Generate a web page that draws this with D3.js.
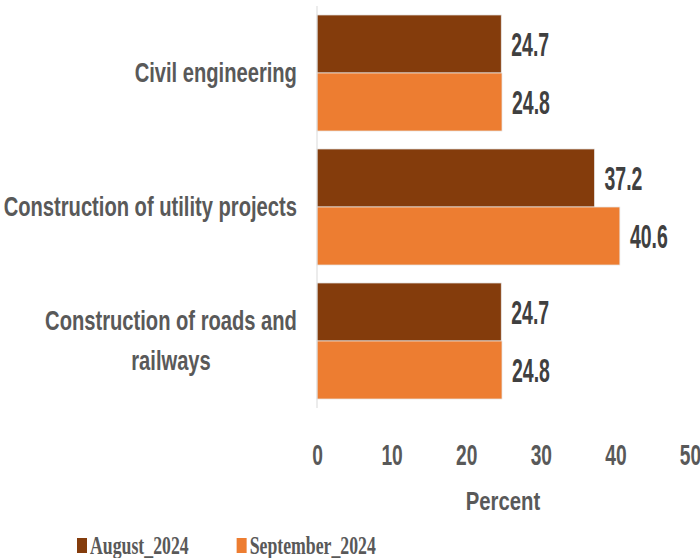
<!DOCTYPE html>
<html>
<head>
<meta charset="utf-8">
<script src="https://cdn.jsdelivr.net/npm/d3@7"></script>
<style>
  body { margin: 0; background: #fff; }
  svg { display: block; }
</style>
</head>
<body>
<script>
const categories = ['Civil engineering', 'Construction of utility projects', 'Construction of roads and railways'];
const seriesNames = ['August_2024', 'September_2024'];
const august = [24.7, 37.2, 24.7];
const september = [24.8, 40.6, 24.8];
const xTicks = [0, 10, 20, 30, 40, 50];
const colors = ['#843C0C', '#ED7D31'];

const width = 700, height = 558;
const font = '"Liberation Sans", Arial, sans-serif';

const svg = d3.select('body')
  .append('svg')
  .attr('width', width)
  .attr('height', height);

const x = d3.scaleLinear().domain([0, 50]).range([317, 690]);
const y = d3.scaleBand().domain(categories).range([6, 408])
  .paddingInner(0.134).paddingOuter(0.067);
const ySub = d3.scaleBand().domain(seriesNames).range([0, y.bandwidth()]);

// squeeze text horizontally (source font was very condensed)
const squeeze = (sel, k) => sel.each(function () {
  const w = this.getComputedTextLength();
  d3.select(this).attr('textLength', w * k).attr('lengthAdjust', 'spacingAndGlyphs');
});

const rows = categories.map((c, i) => ({ c, vals: [august[i], september[i]] }));

const groups = svg.selectAll('g.cat')
  .data(rows)
  .enter()
  .append('g')
  .attr('class', 'cat')
  .attr('transform', d => `translate(0,${y(d.c)})`);

const bars = groups.selectAll('g.bar')
  .data(d => d.vals.map((v, j) => ({ v, s: seriesNames[j], j })))
  .enter()
  .append('g')
  .attr('class', 'bar');

bars.append('rect')
  .attr('x', x(0))
  .attr('y', d => ySub(d.s))
  .attr('width', d => x(d.v) - x(0))
  .attr('height', ySub.bandwidth())
  .attr('fill', d => colors[d.j])
  .attr('stroke', '#e8e8e8')
  .attr('stroke-width', 0.75);

bars.append('text')
  .attr('x', d => x(d.v) + 10)
  .attr('y', d => ySub(d.s) + ySub.bandwidth() / 2 + 12)
  .attr('font-family', font)
  .attr('font-weight', 'bold')
  .attr('font-size', 33)
  .attr('fill', '#404040')
  .text(d => d.v.toFixed(1))
  .call(squeeze, 0.59);

// vertical axis line
svg.append('line')
  .attr('x1', x(0)).attr('x2', x(0))
  .attr('y1', 6).attr('y2', 408)
  .attr('stroke', '#d9d9d9')
  .attr('stroke-width', 1);

// category labels, wrapped and right aligned
const labelK = 0.72, labelMax = 300, lineH = 40;
groups.each(function (d) {
  const g = d3.select(this).append('g')
    .attr('font-family', font)
    .attr('font-weight', 'bold')
    .attr('font-size', 28)
    .attr('fill', '#595959');
  const t = g.append('text');
  const words = d.c.split(' ');
  const lines = [];
  let cur = [];
  words.forEach(w => {
    const test = cur.concat(w).join(' ');
    t.text(test);
    if (cur.length && t.node().getComputedTextLength() * labelK > labelMax) {
      lines.push(cur.join(' '));
      cur = [w];
    } else cur.push(w);
  });
  lines.push(cur.join(' '));
  t.text(null);
  const widths = lines.map(l => { t.text(l); return t.node().getComputedTextLength(); });
  t.text(null);
  const wMax = d3.max(widths);
  const cy = y.bandwidth() / 2 + 9 - (lines.length - 1) * lineH / 2;
  g.attr('transform', `translate(297,${cy}) scale(${labelK},1)`);
  t.attr('text-anchor', 'middle');
  lines.forEach((l, i) => {
    t.append('tspan')
      .attr('x', -wMax / 2)
      .attr('y', i * lineH)
      .text(l);
  });
});

// x axis
const xAxis = svg.append('g')
  .attr('transform', 'translate(0,465)')
  .call(d3.axisBottom(x).tickValues(xTicks).tickSize(0).tickPadding(0));
xAxis.select('.domain').remove();
xAxis.selectAll('text')
  .attr('y', 0)
  .attr('dy', 0)
  .attr('font-family', font)
  .attr('font-weight', 'bold')
  .attr('font-size', 30)
  .attr('fill', '#595959')
  .call(squeeze, 0.64);

svg.append('text')
  .attr('x', 503)
  .attr('y', 510)
  .attr('text-anchor', 'middle')
  .attr('font-family', font)
  .attr('font-weight', 'bold')
  .attr('font-size', 26)
  .attr('fill', '#595959')
  .text('Percent')
  .call(squeeze, 0.78);

// legend
let lx = 77;
seriesNames.forEach((s, i) => {
  svg.append('rect')
    .attr('x', lx).attr('y', 538)
    .attr('width', 10).attr('height', 15)
    .attr('fill', colors[i]);
  const t = svg.append('text')
    .attr('x', lx + 13)
    .attr('y', 554)
    .attr('font-family', '"Liberation Serif", "Times New Roman", serif')
    .attr('font-weight', 'bold')
    .attr('font-size', 25)
    .attr('fill', '#595959')
    .text(s)
    .call(squeeze, 0.71);
  lx += 13 + +t.attr('textLength') + 48;
});
</script>
</body>
</html>
